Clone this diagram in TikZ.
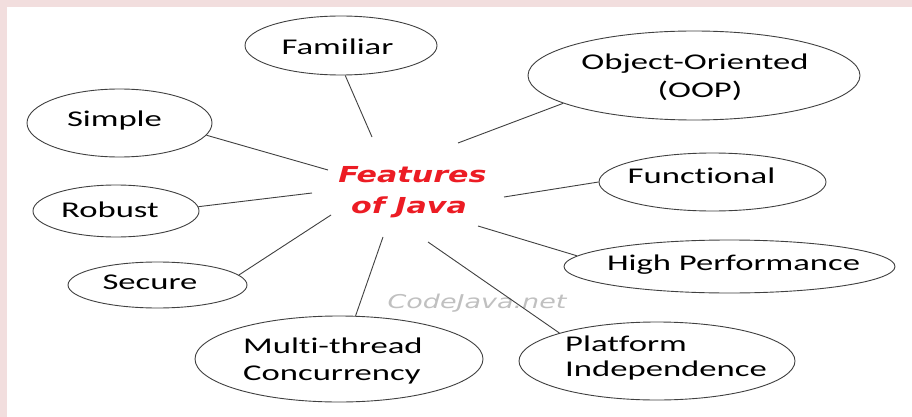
\documentclass[tikz,border=0pt]{standalone}
\usepackage{fontspec}
\setmainfont{Carlito}
\newfontfamily\lblfont[FakeStretch=1.54,Ligatures=NoCommon]{Carlito}
\newfontfamily\titlefont[FakeStretch=1.37]{DejaVu Sans}
\newfontfamily\wmfont[FakeStretch=1.42]{DejaVu Sans}
\usetikzlibrary{shapes.geometric}
\definecolor{pinkbg}{RGB}{242,222,222}
\definecolor{titlered}{RGB}{236,28,36}
\definecolor{wmgray}{RGB}{192,192,192}
\definecolor{linegray}{RGB}{64,64,64}
\tikzset{
  oval/.style={ellipse, draw=linegray, line width=0.9pt, inner sep=0pt},
  lbl/.style={font=\lblfont\fontsize{22.5}{27}\selectfont, text=black, inner sep=0pt, anchor=base},
  lblw/.style={lbl, anchor=base west},
  ttl/.style={font=\titlefont\bfseries\itshape\fontsize{22}{26}\selectfont, text=titlered, inner sep=0pt, anchor=base},
  wm/.style={font=\wmfont\itshape\fontsize{19}{22}\selectfont, text=wmgray, inner sep=0pt, anchor=base},
  link/.style={draw=linegray, line width=0.9pt}
}
\begin{document}
\begin{tikzpicture}[x=1pt,y=-1pt]
\fill[pinkbg] (0,0) rectangle (912,417);
\fill[white] (7,7) rectangle (912,417);
\useasboundingbox (0,0) rectangle (912,417);

% ellipses
\node[oval, minimum width=192pt, minimum height=59pt] (familiar) at (341,45.5) {};
\node[oval, minimum width=332pt, minimum height=89pt] (oop) at (694,75.5) {};
\node[oval, minimum width=185pt, minimum height=68pt] (simple) at (119.5,123) {};
\node[oval, minimum width=166pt, minimum height=52pt] (robust) at (116,211) {};
\node[oval, minimum width=179pt, minimum height=46pt] (secure) at (157.5,285) {};
\node[oval, minimum width=227pt, minimum height=58pt] (functional) at (712.5,182) {};
\node[oval, minimum width=331pt, minimum height=53pt] (highperf) at (729.5,266.5) {};
\node[oval, minimum width=288pt, minimum height=86pt] (multithread) at (339,359) {};
\node[oval, minimum width=276pt, minimum height=78pt] (platform) at (657,361) {};

% labels
\node[lbl] (familiar-t) at (337.5,55) {Familiar};
\node[lbl] (oop-t1) at (695,70) {Object-Oriented};
\node[lbl] (oop-t2) at (700,98) {(OOP)};
\node[lbl] (simple-t) at (114.5,126) {Simple};
\node[lbl] (robust-t) at (110,217) {Robust};
\node[lbl] (secure-t) at (150,289) {Secure};
\node[lbl] (functional-t) at (701.5,183) {Functional};
\node[lbl] (highperf-t) at (733.5,270) {High Performance};
\node[lblw] (multithread-t1) at (243,353) {Multi-thread};
\node[lblw] (multithread-t2) at (243,380) {Concurrency};
\node[lblw] (platform-t1) at (565,351) {Platform};
\node[lblw] (platform-t2) at (565,376) {Independence};

% centre title
\node[ttl] (title1) at (412.5,182) {Features};
\node[ttl] (title2) at (409,213) {of Java};
\node[wm] (watermark) at (477,308) {CodeJava.net};

% free ends near the title
\coordinate (c-fam) at (372,137);
\coordinate (c-oop) at (458,143);
\coordinate (c-simple) at (328,170);
\coordinate (c-robust) at (312,193);
\coordinate (c-secure) at (331,215);
\coordinate (c-func) at (504,197);
\coordinate (c-hp) at (478,226);
\coordinate (c-mt) at (383,237);
\coordinate (c-pf) at (428,242);

% connectors
\draw[link] (familiar.-82) -- (c-fam);
\draw[link] (oop.192) -- (c-oop);
\draw[link] (simple.-8.6) -- (c-simple);
\draw[link] (robust.3.4) -- (c-robust);
\draw[link] (secure.7.6) -- (c-secure);
\draw[link] (functional.180) -- (c-func);
\draw[link] (highperf.176.5) -- (c-hp);
\draw[link] (multithread.69.6) -- (c-mt);
\draw[link] (platform.164.8) -- (c-pf);
\end{tikzpicture}
\end{document}
